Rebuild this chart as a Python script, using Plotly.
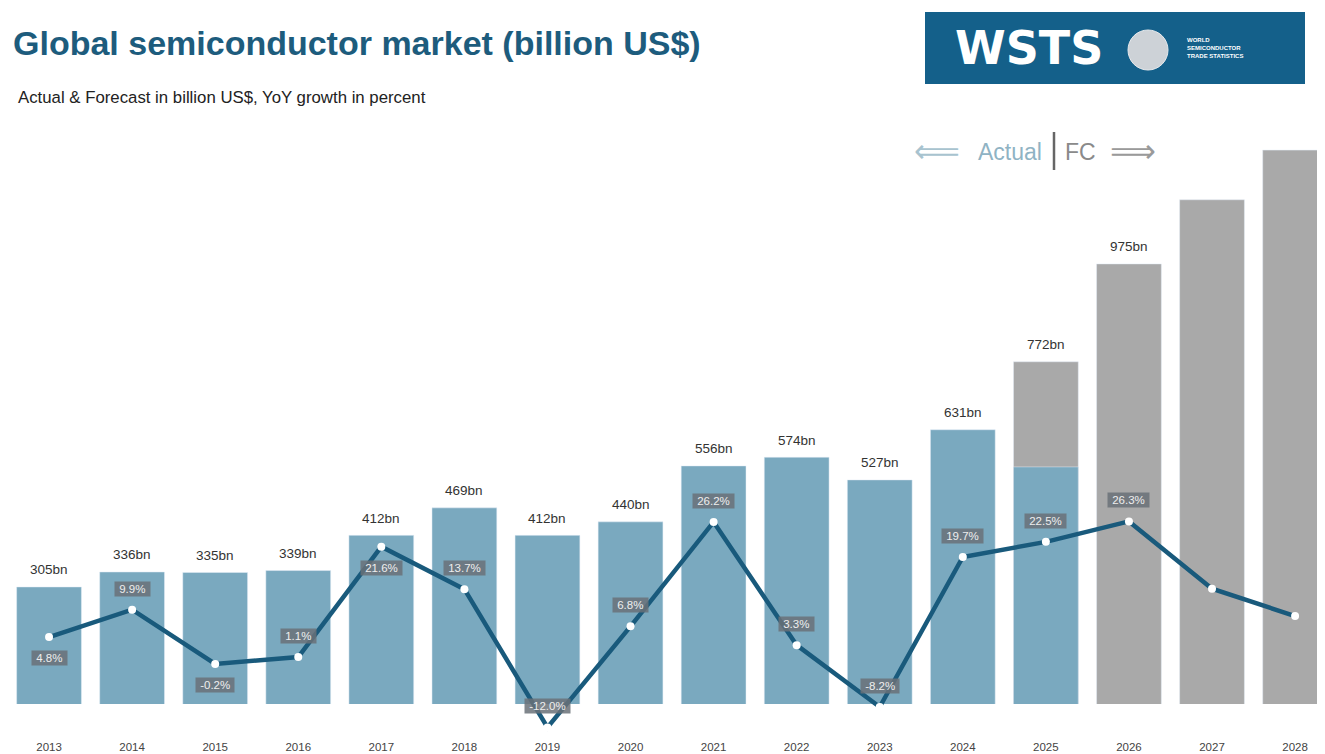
import plotly.graph_objects as go

# --- data ---
years = ["2013", "2014", "2015", "2016", "2017", "2018", "2019", "2020",
         "2021", "2022", "2023", "2024", "2025", "2026", "2027", "2028"]
market_bn = [305, 336, 335, 339, 412, 469, 412, 440, 556, 574, 527, 631, 772, 975, 1108, 1211]
# blue (actual) part of each bar; 2025 is only partly actual
actual_bn = [305, 336, 335, 339, 412, 469, 412, 440, 556, 574, 527, 631, 554, None, None, None]
forecast_bn = [None] * 12 + [772, 975, 1108, 1211]
bar_labels = ["305bn", "336bn", "335bn", "339bn", "412bn", "469bn", "412bn", "440bn",
              "556bn", "574bn", "527bn", "631bn", "772bn", "975bn", "", ""]
yoy_pct = [4.8, 9.9, -0.2, 1.1, 21.6, 13.7, -12.0, 6.8, 26.2, 3.3, -8.2, 19.7, 22.5, 26.3, 13.8, 8.7]
yoy_labels = ["4.8%", "9.9%", "-0.2%", "1.1%", "21.6%", "13.7%", "-12.0%", "6.8%",
              "26.2%", "3.3%", "-8.2%", "19.7%", "22.5%", "26.3%", "", ""]
labels_below = {"2013", "2015", "2017"}

BLUE = "#7aa9bf"
GRAY = "#a9a9a9"
LINE = "#195a7c"
TITLE = "#1d5c7d"

# the page body has an 8px margin, so the figure is sized to end at the window edge
OFF = 8
W, H = 1325 - OFF, 754 - OFF


def px_x(px):
    # screen column -> paper fraction
    return (px - OFF) / W


def py(px):
    # screen row -> paper fraction
    return 1 - (px - OFF) / H


xrange_ = [-0.494, 15.36]
idx = list(range(len(years)))

fig = go.Figure()
fig.add_trace(go.Bar(x=years, y=forecast_bn, marker_color=GRAY, width=0.78,
                     xaxis="x", yaxis="y", name="Forecast"))
fig.add_trace(go.Bar(x=years, y=actual_bn, marker_color=BLUE, width=0.78,
                     xaxis="x", yaxis="y", name="Actual"))
fig.add_trace(go.Scatter(x=years, y=yoy_pct, xaxis="x2", yaxis="y2",
                         mode="lines+markers", name="YoY growth",
                         line=dict(color=LINE, width=4.5),
                         marker=dict(color="white", size=8)))

annotations = []
for i, v, lab in zip(idx, market_bn, bar_labels):
    if lab:
        annotations.append(dict(x=i, y=v, xref="x", yref="y", text=lab,
                                showarrow=False, yshift=17,
                                font=dict(size=13.5, color="#333333")))
for i, yr, v, lab in zip(idx, years, yoy_pct, yoy_labels):
    if lab:
        annotations.append(dict(x=i, y=v, xref="x2", yref="y2",
                                text="&nbsp;" + lab + "&nbsp;",
                                showarrow=False,
                                yshift=-21 if yr in labels_below else 21,
                                bgcolor="rgba(106,113,120,0.85)", borderpad=1,
                                font=dict(size=11.5, color="#eeeeee")))

# titles
annotations += [
    dict(x=px_x(11), y=py(43), xref="paper", yref="paper", xanchor="left",
         yanchor="middle", showarrow=False,
         text="<b>Global semiconductor market (billion US$)</b>",
         font=dict(size=34, color=TITLE)),
    dict(x=px_x(16), y=py(98), xref="paper", yref="paper", xanchor="left",
         yanchor="middle", showarrow=False,
         text="Actual & Forecast in billion US$, YoY growth in percent",
         font=dict(size=16.8, color="#222222")),
]

# Actual | FC marker
annotations += [
    dict(x=px_x(962), y=py(151), xref="paper", yref="paper", xanchor="right",
         yanchor="middle", showarrow=False, text="⟸",
         font=dict(size=32, color="#a8c3cf", family="DejaVu Sans")),
    dict(x=px_x(1044), y=py(152), xref="paper", yref="paper", xanchor="right",
         yanchor="middle", showarrow=False, text="Actual",
         font=dict(size=23, color="#8fb3c4")),
    dict(x=px_x(1063), y=py(152), xref="paper", yref="paper", xanchor="left",
         yanchor="middle", showarrow=False, text="FC",
         font=dict(size=23, color="#8a8a8a")),
    dict(x=px_x(1108), y=py(151), xref="paper", yref="paper", xanchor="left",
         yanchor="middle", showarrow=False, text="⟹",
         font=dict(size=32, color="#9a9a9a", family="DejaVu Sans")),
]

# WSTS logo
annotations += [
    dict(x=px_x(1029), y=py(48), xref="paper", yref="paper", xanchor="center",
         yanchor="middle", showarrow=False, text="<b>WSTS</b>",
         font=dict(size=46, color="white", family="DejaVu Sans")),
    dict(x=px_x(1185), y=py(48), xref="paper", yref="paper", xanchor="left",
         yanchor="middle", showarrow=False, align="left",
         text="<b>WORLD<br>SEMICONDUCTOR<br>TRADE STATISTICS</b>",
         font=dict(size=6, color="white")),
]

shapes = [
    dict(type="rect", xref="paper", yref="paper", x0=px_x(925), x1=px_x(1305),
         y0=py(84), y1=py(12), fillcolor="#14608a", line=dict(width=0)),
    dict(type="circle", xref="paper", yref="paper", x0=px_x(1128), x1=px_x(1168),
         y0=py(70), y1=py(30), fillcolor="#cdd2d7", line=dict(color="#e6e9ec", width=1)),
    dict(type="line", xref="paper", yref="paper", x0=px_x(1054), x1=px_x(1054),
         y0=py(170), y1=py(132), line=dict(color="#666666", width=2.5)),
]

fig.update_layout(
    width=W, height=H,
    margin=dict(l=0, r=0, t=0, b=0),
    paper_bgcolor="white", plot_bgcolor="rgba(0,0,0,0)",
    barmode="overlay", showlegend=False,
    font=dict(family="Liberation Sans, Arial", color="#333333"),
    xaxis=dict(type="category", domain=[0, 1], anchor="y", range=xrange_,
               showticklabels=False, showgrid=False, zeroline=False, showline=False),
    yaxis=dict(domain=[py(704), py(140)], range=[62.2, 1232], visible=False),
    xaxis2=dict(type="category", domain=[0, 1], anchor="y2", range=xrange_,
                showgrid=False, zeroline=False, showline=False, ticks="",
                ticklabelstandoff=3,
                tickfont=dict(size=11.5, color="#444444")),
    yaxis2=dict(domain=[py(735), py(140)], range=[-13.4, 97.2], visible=False),
    annotations=annotations,
    shapes=shapes,
)

fig.write_html("out.html")
